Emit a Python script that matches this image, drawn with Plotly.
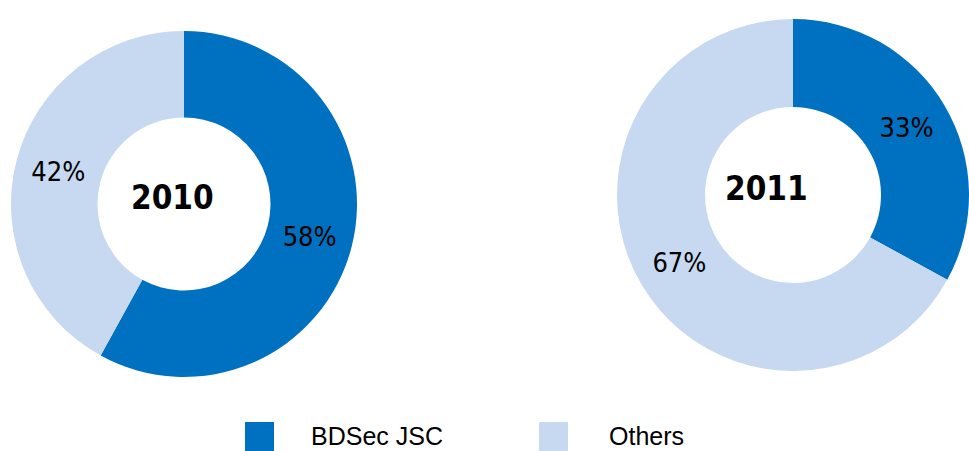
import plotly.graph_objects as go

categories = ["BDSec JSC", "Others"]
values_2010 = [58, 42]
values_2011 = [33, 67]
years = ["2010", "2011"]
colors = ["#0070C0", "#C6D9F0"]

W, H = 969, 451

fig = go.Figure()

pie_common = dict(
    labels=categories,
    hole=0.5,
    sort=False,
    direction="clockwise",
    rotation=0,
    marker=dict(colors=colors, line=dict(width=0)),
    textinfo="percent",
    textposition="inside",
    insidetextorientation="horizontal",
    insidetextfont=dict(family="DejaVu Sans Condensed, DejaVu Sans", size=27, color="black"),
    showlegend=False,
    hoverinfo="label+percent",
)

fig.add_trace(go.Pie(values=values_2010,
                     domain=dict(x=[11 / W, 357 / W], y=[74 / H, 420 / H]),
                     **pie_common))
fig.add_trace(go.Pie(values=values_2011,
                     domain=dict(x=[617 / W, 1.0], y=[80 / H, 432 / H]),
                     **pie_common))

# centre labels
for yr, (px, py) in zip(years, [(172, 198), (766, 188)]):
    fig.add_annotation(text="<b>" + yr + "</b>", x=px / W, y=1 - py / H,
                       xref="paper", yref="paper", showarrow=False,
                       xanchor="center", yanchor="middle",
                       font=dict(family="DejaVu Sans Condensed, DejaVu Sans", size=33, color="black"))

# custom legend
legend_pos = [(245, 310), (539, 608)]
for cat, col, (sx, tx) in zip(categories, colors, legend_pos):
    fig.add_shape(type="rect", xref="paper", yref="paper",
                  x0=sx / W, x1=(sx + 29) / W, y0=-0.02, y1=1 - 422 / H,
                  fillcolor=col, line=dict(width=0))
    fig.add_annotation(text=cat, x=tx / W, y=0, xref="paper", yref="paper",
                       showarrow=False, xanchor="left", yanchor="bottom",
                       borderpad=0,
                       font=dict(family="Liberation Sans, Arial", size=25, color="black"))

fig.update_layout(width=W, height=H, margin=dict(l=0, r=0, t=0, b=0),
                  paper_bgcolor="white", plot_bgcolor="white")

fig.write_html("out.html", config={"displayModeBar": False},
               post_script="document.body.style.margin='0';document.body.style.overflow='hidden';")
